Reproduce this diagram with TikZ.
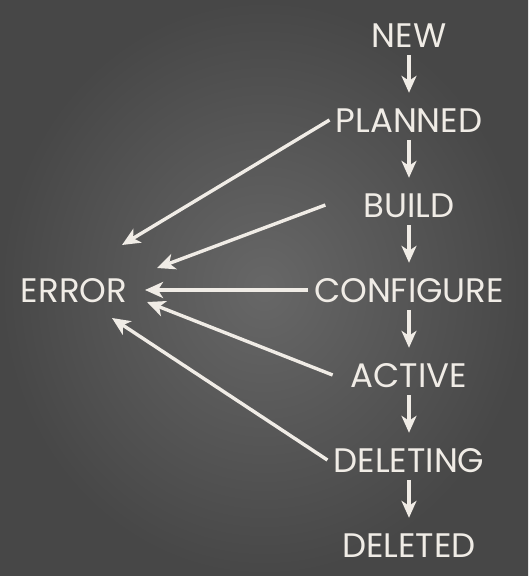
\documentclass[tikz,border=0pt]{standalone}
\usepackage{fontspec}
\setmainfont{Poppins}
\usetikzlibrary{arrows.meta}
\definecolor{chalk}{HTML}{F0ECE6}
\definecolor{boardin}{HTML}{676767}
\definecolor{boardout}{HTML}{474747}
\begin{document}
\begin{tikzpicture}[x=1pt, y=-1pt,
    state/.style={text=chalk, font=\fontsize{34}{34}\selectfont,
      text height=24pt, text depth=0pt, inner ysep=8pt, inner xsep=6pt},
    flow/.style={chalk, line width=3.4pt, -{Stealth[length=17pt, width=15pt, inset=5pt]}, shorten >=7pt},
    fail/.style={chalk, line width=3.4pt, -{Stealth[length=18pt, width=16pt, inset=5pt]}}]
    % Board
    \useasboundingbox (0, 0) rectangle (528, 576);
    \shade [inner color=boardin, outer color=boardout] (0, 0) rectangle (528, 576);

    % Lifecycle states
    \foreach \name/\txt/\y in {new/NEW/35, planned/PLANNED/120, build/BUILD/205,
        configure/CONFIGURE/290, active/ACTIVE/375, deleting/DELETING/460,
        deleted/DELETED/545} {
      \node [state] (\name) at (409, \y) {\txt};
    }

    % Error state
    \node [state] (error) at (74, 290) {ERROR};

    % Transitions
    \foreach \a/\b in {new/planned, planned/build, build/configure,
        configure/active, active/deleting, deleting/deleted} {
      \draw [flow] (\a) -- (\b);
    }

    % Failures
    \draw [fail] (planned.west) -- ([shift={(48, -45)}]error.center);
    \draw [fail] ([xshift=-32pt]build.west) -- ([shift={(83, -22)}]error.center);
    \draw [fail] (configure.west) -- ([shift={(71, 0)}]error.center);
    \draw [fail] ([xshift=-12pt]active.west) -- ([shift={(73, 12)}]error.center);
    \draw [fail] (deleting.west) -- ([shift={(38, 28)}]error.center);
\end{tikzpicture}
\end{document}
